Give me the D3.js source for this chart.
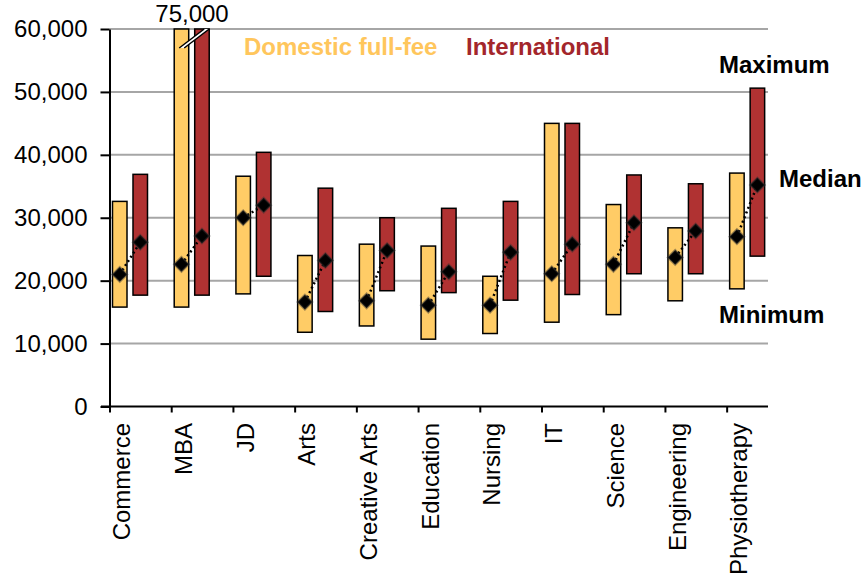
<!DOCTYPE html>
<html>
<head>
<meta charset="utf-8">
<script src="https://cdn.jsdelivr.net/npm/d3@7"></script>
<style>
  body { margin: 0; background: white; }
  text { font-family: "Liberation Sans", Arial, sans-serif; }
</style>
</head>
<body>
<svg id="chart" width="863" height="575"></svg>
<script>
var courses = ['Commerce', 'MBA', 'JD', 'Arts', 'Creative Arts', 'Education', 'Nursing', 'IT', 'Science', 'Engineering', 'Physiotherapy']

// domestic full-fee: min, median, max
var domMin = [15800, 15800, 17900, 11800, 12800, 10700, 11600, 13400, 14600, 16800, 18700]
var domMed = [21000, 22600, 30000, 16600, 16800, 16100, 16100, 21100, 22600, 23700, 27000]
var domMax = [32600, 75000, 36600, 24000, 25800, 25500, 20700, 45000, 32100, 28400, 37100]

// international: min, median, max
var intMin = [17700, 17700, 20700, 15100, 18400, 18100, 16900, 17800, 21100, 21100, 23900]
var intMed = [26100, 27100, 32000, 23200, 24800, 21400, 24500, 25800, 29200, 27900, 35200]
var intMax = [36900, 75000, 40400, 34700, 30000, 31500, 32600, 45000, 36800, 35400, 50600]

var yTicks = [0, 10000, 20000, 30000, 40000, 50000, 60000]

var svg = d3.select('#chart')
var domColor = '#ffcc66'
var intColor = '#b03232'
var fs = '24px'

var x = d3.scaleLinear().domain([0, 10.67]).range([109.5, 768])
var y = d3.scaleLinear().domain([0, 60000]).range([406.5, 29]).clamp(true)
var barW = 14.5

// gridlines
svg.append('g').selectAll('line')
    .data(yTicks.slice(1))
    .enter().append('line')
    .attr('x1', x(0)).attr('x2', 768)
    .attr('y1', function(d) { return y(d) }).attr('y2', function(d) { return y(d) })
    .style('stroke', '#a6a6a6').style('stroke-width', 2)

// y axis
var yAxis = svg.append('g').attr('transform', 'translate(' + x(0) + ',0)')
    .call(d3.axisLeft(y).tickValues(yTicks).tickFormat(d3.format(',')).tickSize(9).tickSizeOuter(0).tickPadding(13))
yAxis.select('.domain').style('stroke', 'black').style('stroke-width', 2)
yAxis.selectAll('.tick line').style('stroke', 'black').style('stroke-width', 2)
yAxis.selectAll('text').style('font-size', fs).style('fill', 'black')
    .style('font-family', '"Liberation Sans", Arial, sans-serif')

// x axis
var xAxis = svg.append('g').attr('transform', 'translate(0,' + y(0) + ')')
    .call(d3.axisBottom(x).tickValues(d3.range(courses.length)).tickFormat('').tickSize(6).tickSizeOuter(0))
xAxis.select('.domain').remove()
xAxis.selectAll('.tick line').style('stroke', 'black').style('stroke-width', 2)
svg.append('line')
    .attr('x1', 101).attr('x2', 768).attr('y1', y(0)).attr('y2', y(0))
    .style('stroke', 'black').style('stroke-width', 2)

svg.append('g').selectAll('text')
    .data(courses)
    .enter().append('text')
    .attr('transform', function(d, i) { return 'translate(' + (x(i) + 12) + ',423) rotate(-90)' })
    .attr('dy', '0.36em')
    .style('text-anchor', 'end')
    .style('font-size', fs)
    .text(function(d) { return d })

// bars
var rows = courses.map(function(c, i) {
    return {i: i, dmin: domMin[i], dmed: domMed[i], dmax: domMax[i], imin: intMin[i], imed: intMed[i], imax: intMax[i]}
})
var g = svg.append('g')

g.selectAll('rect.dom')
    .data(rows).enter().append('rect')
    .attr('class', 'dom')
    .attr('x', function(d) { return x(d.i) + 3 })
    .attr('width', barW)
    .attr('y', function(d) { return y(d.dmax) })
    .attr('height', function(d) { return y(d.dmin) - y(d.dmax) })
    .style('fill', domColor).style('stroke', 'black').style('stroke-width', 1.5)

g.selectAll('rect.int')
    .data(rows).enter().append('rect')
    .attr('class', 'int')
    .attr('x', function(d) { return x(d.i) + 23.5 })
    .attr('width', barW)
    .attr('y', function(d) { return y(d.imax) })
    .attr('height', function(d) { return y(d.imin) - y(d.imax) })
    .style('fill', intColor).style('stroke', 'black').style('stroke-width', 1.5)

// break marks on the MBA bars
var mb = x(1)
g.append('path')
    .attr('d', 'M' + (mb + 8) + ',48 L' + (mb + 33) + ',29 L' + (mb + 38) + ',29 L' + (mb + 13) + ',48 Z')
    .style('fill', 'white')
g.append('path')
    .attr('d', 'M' + (mb + 8) + ',48 L' + (mb + 33) + ',29 M' + (mb + 13) + ',48 L' + (mb + 38) + ',29')
    .style('stroke', 'black').style('stroke-width', 1.5).style('fill', 'none')
svg.append('text')
    .attr('x', 192).attr('y', 22)
    .style('text-anchor', 'middle').style('font-size', fs)
    .text('75,000')

// dotted median links
g.selectAll('line.link')
    .data(rows).enter().append('line')
    .attr('x1', function(d) { return x(d.i) + 3 + barW / 2 })
    .attr('y1', function(d) { return y(d.dmed) })
    .attr('x2', function(d) { return x(d.i) + 23.5 + barW / 2 })
    .attr('y2', function(d) { return y(d.imed) })
    .style('stroke', 'black').style('stroke-width', 2.5).style('stroke-dasharray', '2,3')

// median diamonds
var meds = []
rows.forEach(function(d) {
    meds.push({cx: x(d.i) + 3 + barW / 2, v: d.dmed})
    meds.push({cx: x(d.i) + 23.5 + barW / 2, v: d.imed})
})
var dia = d3.symbol().type(d3.symbolSquare).size(110)
g.selectAll('path.med')
    .data(meds).enter().append('path')
    .attr('class', 'med')
    .attr('d', dia)
    .attr('transform', function(d) { return 'translate(' + d.cx + ',' + y(d.v) + ') rotate(45)' })
    .style('fill', 'black').style('stroke', '#333').style('stroke-width', 2).style('stroke-opacity', 0.45)

// legend
svg.append('text').attr('x', 244).attr('y', 55)
    .style('font-size', fs).style('font-weight', 'bold').style('fill', '#ffc65c')
    .text('Domestic full-fee')
svg.append('text').attr('x', 466).attr('y', 55)
    .style('font-size', fs).style('font-weight', 'bold').style('fill', '#a3262b')
    .text('International')

// annotations
svg.append('text').attr('x', 719).attr('y', 73)
    .style('font-size', fs).style('font-weight', 'bold').text('Maximum')
svg.append('text').attr('x', 779).attr('y', 187)
    .style('font-size', fs).style('font-weight', 'bold').text('Median')
svg.append('text').attr('x', 719).attr('y', 323)
    .style('font-size', fs).style('font-weight', 'bold').text('Minimum')
</script>
</body>
</html>
